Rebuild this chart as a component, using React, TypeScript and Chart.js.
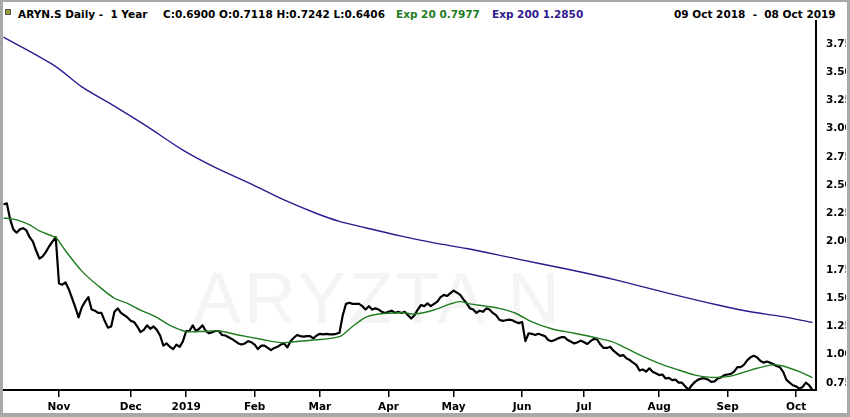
import React, { useEffect, useRef } from "react";
import { Chart, registerables } from "chart.js";

Chart.register(...registerables);

// Daily closes, one per trading day (09 Oct 2018 .. 08 Oct 2019)
const closeValues = [
  2.33, 2.34, 2.2, 2.11, 2.08, 2.11, 2.12, 2.1, 2.04, 2.0,
  1.92, 1.85, 1.87, 1.91, 1.96, 2.0, 2.04, 1.63, 1.62, 1.64,
  1.58, 1.5, 1.42, 1.33, 1.42, 1.47, 1.51, 1.4, 1.39, 1.37,
  1.37, 1.3, 1.24, 1.25, 1.38, 1.41, 1.37, 1.35, 1.33, 1.3,
  1.29, 1.25, 1.2, 1.22, 1.26, 1.23, 1.25, 1.22, 1.17, 1.08,
  1.1, 1.07, 1.05, 1.09, 1.07, 1.12, 1.21, 1.21, 1.26, 1.21,
  1.23, 1.26, 1.21, 1.19, 1.2, 1.21, 1.21, 1.175, 1.17, 1.155,
  1.14, 1.12, 1.1, 1.09, 1.1, 1.12, 1.11, 1.09, 1.05, 1.08,
  1.08, 1.06, 1.04, 1.06, 1.07, 1.09, 1.1, 1.065, 1.12, 1.15,
  1.175, 1.165, 1.16, 1.165, 1.165, 1.145, 1.17, 1.185, 1.18, 1.185,
  1.18, 1.18, 1.185, 1.195, 1.35, 1.45, 1.46, 1.45, 1.45, 1.45,
  1.43, 1.4, 1.43, 1.4, 1.41, 1.4, 1.38, 1.37, 1.38, 1.39,
  1.37, 1.38, 1.37, 1.38, 1.35, 1.32, 1.35, 1.4, 1.44, 1.43,
  1.455, 1.43, 1.45, 1.47, 1.51, 1.53, 1.52, 1.545, 1.567, 1.55,
  1.53, 1.49, 1.455, 1.41, 1.4, 1.37, 1.39, 1.38, 1.41, 1.4,
  1.37, 1.35, 1.31, 1.3, 1.305, 1.31, 1.305, 1.29, 1.28, 1.29,
  1.12, 1.19, 1.185, 1.175, 1.185, 1.175, 1.165, 1.13, 1.12, 1.13,
  1.145, 1.155, 1.155, 1.13, 1.115, 1.1, 1.11, 1.125, 1.11, 1.095,
  1.12, 1.14, 1.135, 1.09, 1.06, 1.06, 1.07, 1.036, 1.013, 0.99,
  0.997, 0.968, 0.953, 0.93, 0.91, 0.86, 0.87, 0.85, 0.88, 0.85,
  0.836, 0.82, 0.825, 0.79, 0.795, 0.776, 0.78, 0.753, 0.753, 0.72,
  0.69, 0.73, 0.76, 0.78, 0.79, 0.79, 0.78, 0.76, 0.765, 0.79,
  0.8, 0.82, 0.825, 0.83, 0.85, 0.89, 0.89, 0.91, 0.95, 0.977,
  0.99, 0.977, 0.947, 0.93, 0.94, 0.93, 0.918, 0.9, 0.89, 0.85,
  0.78, 0.753, 0.73, 0.72, 0.7, 0.715, 0.753, 0.73, 0.69,
];

// Exp 20 (trading-day index, value)
const ema20Days = [
  0, 3, 5, 8, 11, 15, 16, 19, 24, 29, 34, 38, 42, 47, 51, 56, 60, 66, 72, 79,
  85, 89, 95, 103, 107, 111, 115, 120, 123, 126, 132, 137, 140, 143, 148, 152,
  157, 162, 168, 175, 181, 186, 189, 195, 201, 207, 212, 217, 222, 226, 231,
  236, 239, 244, 248,
];
const ema20Values = [
  2.21, 2.2, 2.185, 2.15, 2.095, 2.05, 2.04, 1.92, 1.74, 1.61, 1.5, 1.455,
  1.395, 1.33, 1.26, 1.205, 1.205, 1.21, 1.175, 1.137, 1.107, 1.115, 1.13,
  1.16, 1.25, 1.33, 1.36, 1.37, 1.37, 1.36, 1.396, 1.45, 1.47, 1.45, 1.43,
  1.41, 1.367, 1.29, 1.23, 1.19, 1.155, 1.12, 1.086, 0.998, 0.924, 0.865,
  0.82, 0.8, 0.806, 0.836, 0.88, 0.91, 0.9, 0.85, 0.798,
];

// Exp 200 (trading-day index, value)
const ema200Days = [
  0, 16, 24, 34, 44, 55, 65, 76, 86, 96, 103, 111, 122, 132, 142, 157, 173,
  188, 203, 219, 229, 239, 248,
];
const ema200Values = [
  3.81, 3.55, 3.37, 3.2, 3.02, 2.81, 2.655, 2.51, 2.37, 2.25, 2.18, 2.124,
  2.05, 1.99, 1.94, 1.85, 1.756, 1.66, 1.55, 1.44, 1.38, 1.337, 1.285,
];

const monthTickDays = [17, 39, 56, 77, 97, 118, 138, 159, 178, 201, 222, 243];
const monthTickLabels = [
  "Nov", "Dec", "2019", "Feb", "Mar", "Apr", "May", "Jun", "Jul", "Aug", "Sep", "Oct",
];
const priceTicks = [
  0.75, 1.0, 1.25, 1.5, 1.75, 2.0, 2.25, 2.5, 2.75, 3.0, 3.25, 3.5, 3.75,
];

const GREEN = "#1f7d1f";
const PURPLE = "#2e1a8e";
const FONT = "'DejaVu Sans', sans-serif";

export default function App() {
  const canvasRef = useRef<HTMLCanvasElement>(null);

  useEffect(() => {
    document.body.style.margin = "0";
    const tickFont = { family: "DejaVu Sans", size: 10.5, weight: "bold" as const };
    const noPad = (s: any) => {
      s.paddingTop = 0;
      s.paddingBottom = 0;
      s.paddingLeft = 0;
      s.paddingRight = 0;
    };
    const chart = new Chart(canvasRef.current!, {
      type: "line",
      data: {
        datasets: [
          {
            label: "Exp 20",
            data: ema20Days.map((d, i) => ({ x: d, y: ema20Values[i] })),
            borderColor: GREEN,
            borderWidth: 1.4,
            pointRadius: 0,
            tension: 0.3,
          },
          {
            label: "Close",
            data: closeValues.map((v, i) => ({ x: i, y: v })),
            borderColor: "#000",
            borderWidth: 2.2,
            pointRadius: 0,
            borderJoinStyle: "round",
          },
          {
            label: "Exp 200",
            data: ema200Days.map((d, i) => ({ x: d, y: ema200Values[i] })),
            borderColor: PURPLE,
            borderWidth: 1.4,
            pointRadius: 0,
            tension: 0.3,
          },
        ],
      },
      options: {
        animation: false,
        responsive: true,
        maintainAspectRatio: false,
        layout: { padding: 0 },
        plugins: { legend: { display: false }, tooltip: { enabled: false } },
        scales: {
          x: {
            type: "linear",
            min: -0.17,
            max: 249.1,
            afterBuildTicks: (s: any) => {
              s.ticks = monthTickDays.map((v) => ({ value: v }));
            },
            afterFit: (s: any) => {
              s.height = 23;
              noPad(s);
            },
            grid: {
              display: true,
              drawOnChartArea: false,
              drawTicks: true,
              tickLength: 7,
              color: "#000",
              lineWidth: 1.5,
            },
            border: { display: true, color: "#000", width: 2 },
            ticks: {
              autoSkip: false,
              maxRotation: 0,
              padding: 4,
              color: "#000",
              font: tickFont,
              callback: (v: any) => {
                const k = monthTickDays.indexOf(Number(v));
                return k >= 0 ? monthTickLabels[k] : "";
              },
            },
          },
          y: {
            type: "linear",
            position: "right",
            min: 0.688,
            max: 3.962,
            afterBuildTicks: (s: any) => {
              s.ticks = priceTicks.map((v) => ({ value: v }));
            },
            afterFit: (s: any) => {
              s.width = 30;
              noPad(s);
            },
            grid: { display: false },
            border: { display: true, color: "#000", width: 2 },
            ticks: {
              padding: 2,
              color: "#000",
              font: tickFont,
              callback: (v: any) => Number(v).toFixed(2),
            },
          },
        },
      },
    });
    return () => chart.destroy();
  }, []);

  const text: React.CSSProperties = {
    position: "absolute",
    top: 5,
    fontFamily: FONT,
    fontSize: 10.5,
    fontWeight: "bold",
    lineHeight: "14px",
    whiteSpace: "pre",
  };

  return (
    <div
      style={{
        position: "fixed",
        left: 0,
        top: 0,
        width: 850,
        height: 417,
        boxSizing: "border-box",
        background: "#fff",
        borderLeft: "3px solid #a8a8a8",
        borderTop: "2px solid #a8a8a8",
        borderRight: "3px solid #a8a8a8",
        borderBottom: "4px solid #a8a8a8",
        overflow: "hidden",
      }}
    >
      <div
        style={{
          position: "absolute",
          left: 2,
          top: 7,
          width: 4,
          height: 4,
          background: "#9a9a3a",
          border: "1px solid #555",
        }}
      />
      <span style={{ ...text, left: 15, color: "#000" }}>ARYN.S Daily -  1 Year</span>
      <span style={{ ...text, left: 160, color: "#000" }}>
        C:0.6900 O:0.7118 H:0.7242 L:0.6406
      </span>
      <span style={{ ...text, left: 393, color: GREEN }}>Exp 20 0.7977</span>
      <span style={{ ...text, left: 489, color: PURPLE }}>Exp 200 1.2850</span>
      <span style={{ ...text, left: 671, color: "#000" }}>09 Oct 2018  -  08 Oct 2019</span>
      <div
        style={{
          position: "absolute",
          left: 190,
          top: 256,
          fontFamily: "'Liberation Sans', sans-serif",
          fontSize: 72,
          lineHeight: "80px",
          letterSpacing: 3,
          color: "#f4f4f4",
          whiteSpace: "pre",
        }}
      >
        ARYZTA N
      </div>
      <div style={{ position: "absolute", left: 0, top: 18, width: 843, height: 393 }}>
        <canvas ref={canvasRef} />
      </div>
    </div>
  );
}
